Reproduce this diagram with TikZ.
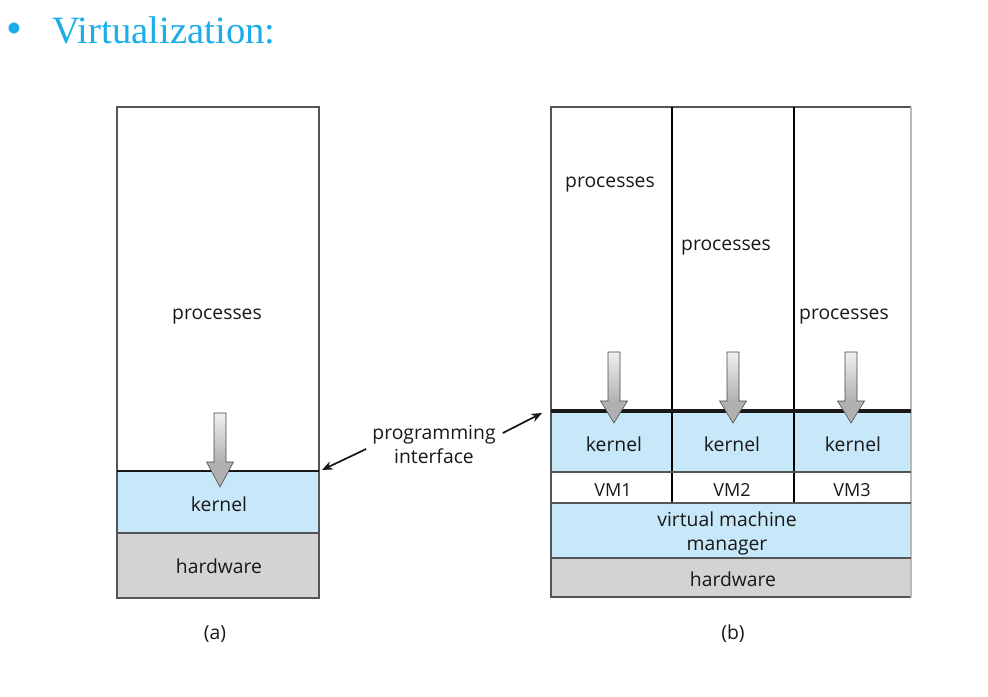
\documentclass[tikz,border=0pt]{standalone}
\usepackage{fontspec}
\setmainfont{Open Sans}
\newfontfamily\titlefont{Liberation Serif}
\usetikzlibrary{arrows.meta}
\definecolor{kblue}{HTML}{C7E8F8}
\definecolor{hgray}{HTML}{D3D3D5}
\definecolor{tcyan}{HTML}{1AADE8}
\definecolor{ink}{HTML}{1A1718}
\definecolor{edge}{HTML}{555555}
\tikzset{
  downarrow/.pic={
    \shade[top color=gray!12, bottom color=gray!62] (-6,-74) rectangle (6,-24);
    \fill[gray!62] (-13.5,-25) -- (13.5,-25) -- (0,0) -- cycle;
    \draw[gray!55!black, line width=0.4pt] (-6,-74) -- (6,-74) -- (6,-25) -- (13.5,-25) -- (0,0) -- (-13.5,-25) -- (-6,-25) -- cycle;
  },
  downarrowb/.pic={
    \shade[top color=gray!12, bottom color=gray!62] (-6,-71) rectangle (6,-21);
    \fill[gray!62] (-13.5,-22) -- (13.5,-22) -- (0,0) -- cycle;
    \draw[gray!55!black, line width=0.4pt] (-6,-71) -- (6,-71) -- (6,-22) -- (13.5,-22) -- (0,0) -- (-13.5,-22) -- (-6,-22) -- cycle;
  }
}
\begin{document}
\begin{tikzpicture}[x=0.75pt,y=-0.75pt,
  lbl/.style={font=\fontsize{14.5}{18}\selectfont, text=ink, inner sep=0pt, anchor=center},
  vmlbl/.style={font=\fontsize{13.5}{16}\selectfont, text=ink, inner sep=0pt, anchor=center},
  frame/.style={draw=edge, line width=0.8pt},
  divider/.style={draw=black, line width=0.8pt},
  callarrow/.style={-{Stealth[length=8pt,width=6.5pt]}, line width=1.3pt, draw=ink}
]
\useasboundingbox (0,0) rectangle (988,696);

% title
\node[font=\titlefont\fontsize{34}{36}\selectfont, text=tcyan, inner sep=0pt, anchor=base] (bullet) at (14,43) {•};
\node[font=\titlefont\fontsize{29}{32}\selectfont, text=tcyan, inner sep=0pt, anchor=base west] (title) at (52,43) {Virtualization:};

% ---------- (a) ----------
\fill[kblue] (117,471) rectangle (319,533);
\fill[hgray] (117,533) rectangle (319,598);
\draw[frame] (117,107) rectangle (319,598);
\draw[frame] (117,533) -- (319,533);
\draw[draw=ink, line width=1.5pt] (117,471) -- (319,471);
\coordinate (apiA) at (322,470);

\node[lbl] (aproc) at (217,317) {processes};
\node[lbl] (akern) at (219,504) {kernel};
\node[lbl] (ahw) at (219,566) {hardware};
\pic at (220,487) {downarrow};
\node[lbl] (alab) at (215,634) {(a)};

% ---------- (b) ----------
\fill[kblue] (551,411) rectangle (911,472);
\fill[white] (551,472) rectangle (911,503);
\fill[kblue] (551,503) rectangle (911,558);
\fill[hgray] (551,558) rectangle (911,597);
\draw[frame] (911,107) -- (551,107) -- (551,597) -- (911,597);
\draw[draw=gray!55, line width=0.8pt] (911,107) -- (911,597);
\draw[divider] (672,107) -- (672,503);
\draw[divider] (794,107) -- (794,503);
\draw[frame] (551,472) -- (911,472);
\draw[frame] (551,503) -- (911,503);
\draw[frame] (551,558) -- (911,558);
\draw[draw=ink, line width=3pt] (551,411) -- (911,411);
\coordinate (apiB) at (542,413);

\node[lbl] (bproc1) at (610,185) {processes};
\node[lbl] (bproc2) at (726,248) {processes};
\node[lbl] (bproc3) at (844,317) {processes};
\pic at (614,423) {downarrowb};
\pic at (733,423) {downarrowb};
\pic at (851,423) {downarrowb};
\node[lbl] (bk1) at (614,444) {kernel};
\node[lbl] (bk2) at (732,444) {kernel};
\node[lbl] (bk3) at (853,444) {kernel};
\node[vmlbl] (vm1) at (613,490) {VM1};
\node[vmlbl] (vm2) at (732,490) {VM2};
\node[vmlbl] (vm3) at (852,490) {VM3};
\node[lbl, align=center] (vmm) at (727,533) {virtual machine\\manager};
\node[lbl] (bhw) at (733,579) {hardware};
\node[lbl] (blab) at (733,634) {(b)};

% programming interface
\node[lbl, align=center] (pi) at (434,444) {programming\\interface};
\draw[callarrow] ([shift={(-6,5)}]pi.west) -- (apiA);
\draw[callarrow] ([shift={(7,-11)}]pi.east) -- (apiB);
\end{tikzpicture}
\end{document}
